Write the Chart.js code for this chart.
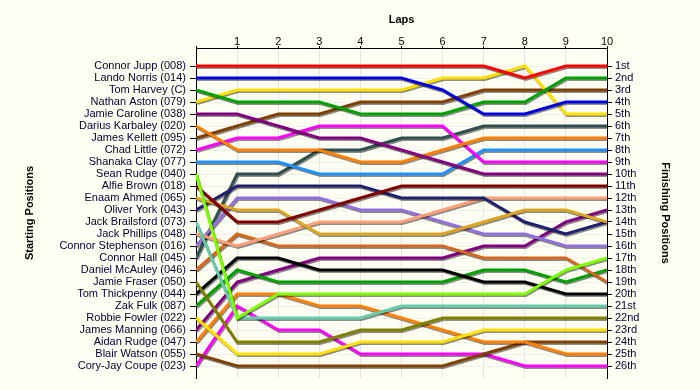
<!DOCTYPE html>
<html><head><meta charset="utf-8">
<script src="https://cdn.jsdelivr.net/npm/chart.js@4/dist/chart.umd.min.js"></script>
<style>html,body{margin:0;padding:0;background:#fffff4}#wrap{width:700px;height:390px;position:relative}</style>
</head><body><div id="wrap"><canvas id="c"></canvas></div>
<script>
const laps = [0,1,2,3,4,5,6,7,8,9,10];
const drivers = ["Connor Jupp (008)","Lando Norris (014)","Tom Harvey (C)","Nathan Aston (079)","Jamie Caroline (038)","Darius Karbaley (020)","James Kellett (095)","Chad Little (072)","Shanaka Clay (077)","Sean Rudge (040)","Alfie Brown (018)","Enaam Ahmed (065)","Oliver York (043)","Jack Brailsford (073)","Jack Phillips (048)","Connor Stephenson (016)","Connor Hall (045)","Daniel McAuley (046)","Jamie Fraser (050)","Tom Thickpenny (044)","Zak Fulk (087)","Robbie Fowler (022)","James Manning (066)","Aidan Rudge (047)","Blair Watson (055)","Cory-Jay Coupe (023)"];
const finishLabels = ["1st","2nd","3rd","4th","5th","6th","7th","8th","9th","10th","11th","12th","13th","14th","15th","16th","17th","18th","19th","20th","21st","22nd","23rd","24th","25th","26th"];
const colors = ["#ff0000","#0000dd","#00a000","#ffe000","#800080","#ff8000","#804000","#ff00ff","#2090ff","#80ff00","#800000","#daa520","#202070","#66cdaa","#ffa07a","#9370db","#2f4f4f","#d2691e","#808000","#000000","#00a000","#ffe000","#800080","#ff8000","#804000","#ff00ff"];
// position of each driver (starting order) at laps 0..10
const positions = [
 [1,1,1,1,1,1,1,1,2,1,1],
 [2,2,2,2,2,2,3,5,5,4,4],
 [3,4,4,4,5,5,5,4,4,2,2],
 [4,3,3,3,3,3,2,2,1,5,5],
 [5,5,6,7,7,8,9,10,10,10,10],
 [6,8,8,8,9,9,8,7,7,7,7],
 [7,6,5,5,4,4,4,3,3,3,3],
 [8,7,7,6,6,6,6,9,9,9,9],
 [9,9,9,10,10,10,10,8,8,8,8],
 [10,22,20,20,20,20,20,20,20,18,17],
 [11,14,14,13,12,11,11,11,11,11,11],
 [12,13,13,15,15,15,15,14,13,13,14],
 [13,11,11,11,11,12,12,12,14,15,14],
 [14,22,22,22,22,21,21,21,21,21,21],
 [15,16,15,14,14,14,13,12,12,12,12],
 [16,12,12,12,13,13,14,15,15,16,16],
 [17,10,10,8,8,7,7,6,6,6,6],
 [18,15,16,16,16,16,16,17,17,17,19],
 [19,24,24,24,23,23,22,22,22,22,22],
 [20,17,17,18,18,18,18,19,19,20,20],
 [21,18,19,19,19,19,19,18,18,19,18],
 [22,25,25,25,24,24,24,23,23,23,23],
 [23,19,18,17,17,17,17,16,16,14,13],
 [24,20,20,21,21,22,23,24,24,25,25],
 [25,26,26,26,26,26,26,25,24,24,24],
 [26,21,23,23,25,25,25,25,26,26,26]
];

const bgPlugin = {id:'bg', beforeDraw(ch){const c=ch.ctx;c.save();c.fillStyle='#fffff4';c.fillRect(0,0,ch.width,ch.height);c.restore();}};
const shadowPlugin = {id:'shadow',
  beforeDatasetsDraw(ch){const c=ch.ctx;c.save();c.shadowColor='rgba(0,0,0,0.45)';c.shadowOffsetX=1;c.shadowOffsetY=1.5;c.shadowBlur=0;},
  afterDatasetsDraw(ch){ch.ctx.restore();}};

const datasets = drivers.map((d,i)=>({
  label:d,
  data: laps.map((l,j)=>({x:l,y:positions[i][j]})),
  borderColor: colors[i],
  backgroundColor: colors[i],
  borderWidth: 3,
  pointRadius: 0,
  tension: 0,
  fill: false
}));

const font = {family:'"Liberation Sans", Arial, sans-serif', size:11};
const bold = {family:'"Liberation Sans", Arial, sans-serif', size:11, weight:'bold'};
const rowTicks = drivers.map((d,i)=>({value:i+1}));

new Chart(document.getElementById('c'), {
  type:'line',
  data:{datasets},
  plugins:[bgPlugin, shadowPlugin],
  options:{
    responsive:true, maintainAspectRatio:false, animation:false,
    layout:{padding:{left:0,right:0,top:0,bottom:12}},
    plugins:{legend:{display:false}, tooltip:{enabled:false}},
    scales:{
      x:{type:'linear', position:'top', min:0, max:10,
        afterBuildTicks(s){s.ticks=laps.map(v=>({value:v}));},
        afterFit(s){s.height=48;},
        ticks:{font, color:'#000', padding:-3, maxRotation:0, callback:(v)=> v===0?'':String(v)},
        grid:{color:'#e4e4e4', tickColor:'#000', tickLength:2},
        border:{color:'#000', width:1},
        title:{display:true, text:'Laps', font:bold, color:'#000', padding:{top:13,bottom:0}}
      },
      y:{type:'linear', position:'left', reverse:true, min:-0.5, max:27,
        afterBuildTicks(s){s.ticks=rowTicks.map(t=>({value:t.value}));},
        afterFit(s){s.width=196;},
        ticks:{font, color:'#000033', padding:4, autoSkip:false, callback:(v)=>drivers[v-1]||''},
        grid:{color:'#f0f0ea', tickColor:'#000', tickLength:6},
        border:{color:'#000', width:1},
        title:{display:true, text:'Starting Positions', font:bold, color:'#000', padding:{top:23,bottom:0}}
      },
      y2:{type:'linear', position:'right', reverse:true, min:-0.5, max:27,
        afterBuildTicks(s){s.ticks=rowTicks.map(t=>({value:t.value}));},
        afterFit(s){s.width=93;},
        ticks:{font, color:'#000033', padding:3, autoSkip:false, callback:(v)=>finishLabels[v-1]||''},
        grid:{drawOnChartArea:false, tickColor:'#000', tickLength:5},
        border:{color:'#000', width:1},
        title:{display:true, text:'Finishing Positions', font:bold, color:'#000', padding:{top:28,bottom:0}}
      }
    }
  }
});
</script></body></html>
